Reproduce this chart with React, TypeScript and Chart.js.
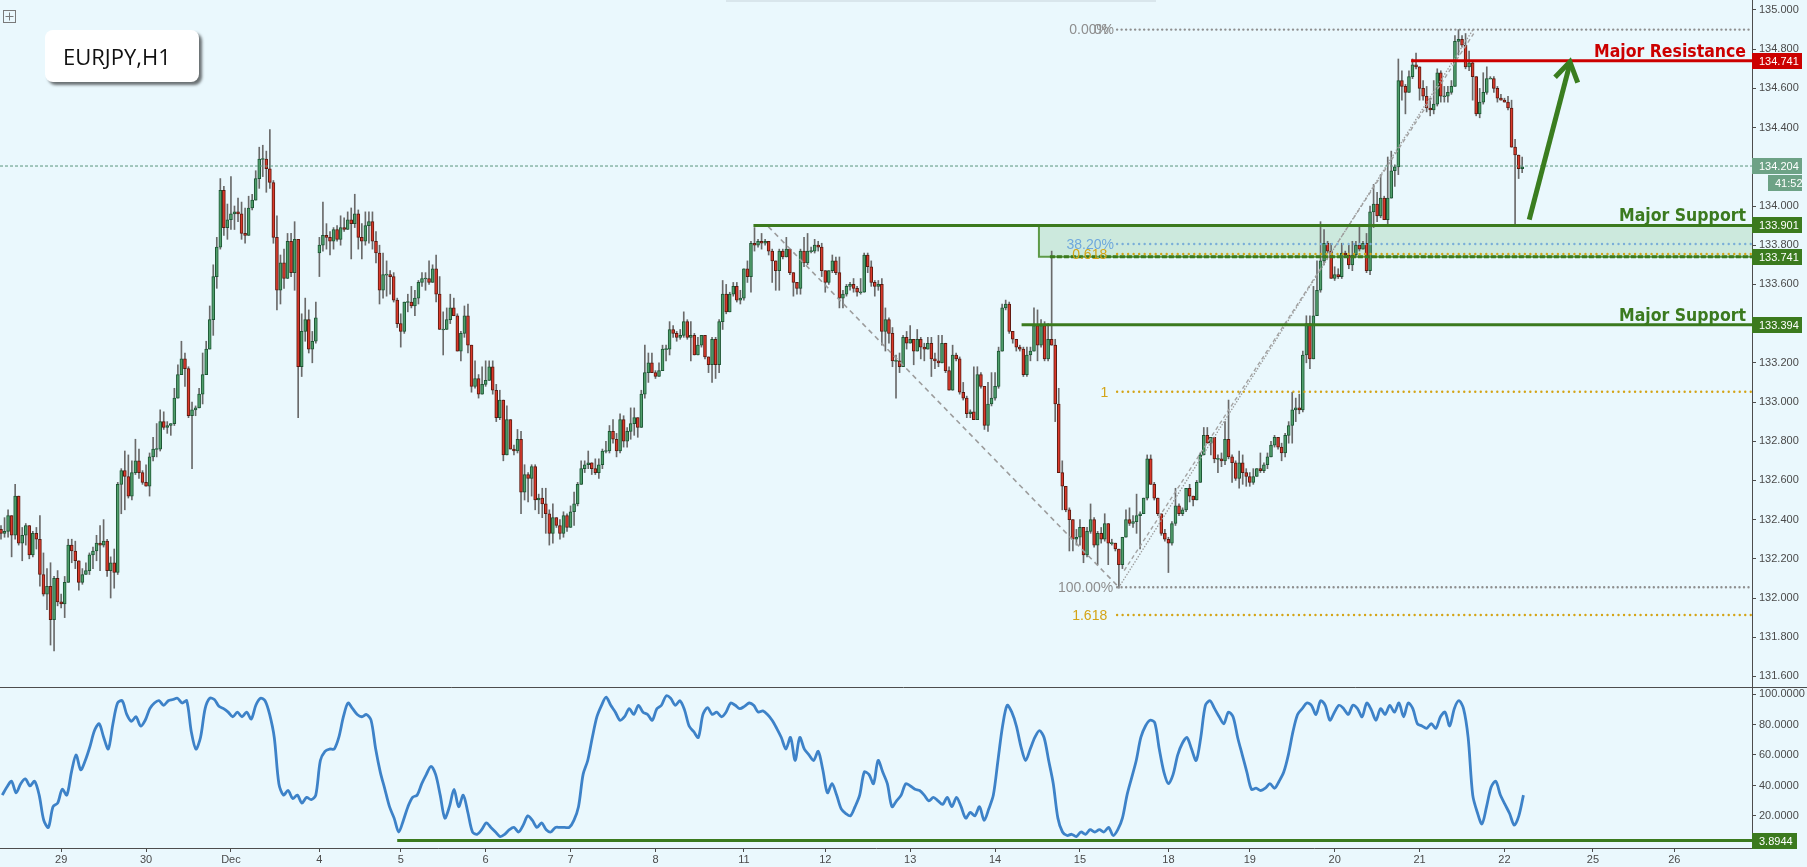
import React, { useEffect, useRef } from 'react';
import { Chart, registerables } from 'chart.js';
Chart.register(...registerables);

const W = 1807;
const H = 867;
const MAIN_H = 687;
const OSC_H = H - MAIN_H;
const AXIS_W = 55;
const BG = '#eaf8fd';
const AXIS_COLOR = '#4d4d4d';
const TICK_TEXT = '#4a4a4a';
const GREEN = '#3b7a1e';
const RED = '#cc0000';
const GOLD = '#d4a417';
const GREY_DOT = '#8f8f8f';
const BLUE_DOT = '#7aaed8';

// ---------------- data: hourly candles, bar index 0..430 ----------------
const FIRST_OPEN = 132.35;
const GAP_OPENS: [number, number][] = [[90, 133.76]];

const CLOSE = [
  132.33,132.34,132.42,132.32,132.52,132.28,132.32,132.37,132.22,132.33,
  132.30,132.12,132.02,132.06,131.89,132.10,131.98,131.97,132.08,132.27,
  132.24,132.19,132.08,132.12,132.14,132.22,132.24,132.28,132.27,132.29,
  132.14,132.18,132.13,132.58,132.65,132.62,132.52,132.64,132.70,132.64,
  132.59,132.57,132.72,132.76,132.76,132.90,132.87,132.88,132.89,133.02,
  133.14,133.22,133.17,132.93,132.96,132.97,133.04,133.14,133.27,133.42,
  133.64,133.79,134.08,133.89,133.93,133.96,133.97,133.96,133.86,133.85,
  133.99,134.03,134.14,134.24,134.24,134.19,134.12,133.84,133.57,133.71,
  133.63,133.82,133.66,133.83,133.18,133.36,133.42,133.27,
  133.31,133.43,133.80,133.85,133.84,133.82,133.88,133.83,133.89,133.88,
  133.93,133.91,133.96,133.84,133.82,133.90,133.92,133.82,133.76,133.57,
  133.65,133.65,133.64,133.52,133.40,133.36,133.51,133.51,133.49,133.53,
  133.61,133.63,133.63,133.61,133.68,133.55,133.37,133.37,133.42,133.48,
  133.44,133.26,133.35,133.44,133.29,133.08,133.12,133.04,133.09,133.11,
  133.18,133.06,132.92,133.01,132.73,132.91,132.76,132.75,132.81,132.54,
  132.63,132.61,132.67,132.50,132.51,132.48,132.43,132.33,132.41,132.37,
  132.33,132.42,132.36,132.44,132.48,132.58,132.66,132.68,132.69,132.66,
  132.64,132.68,132.75,132.75,132.85,132.81,132.75,132.91,
  132.80,132.85,132.89,132.92,132.87,133.04,133.15,133.20,133.15,133.13,
  133.16,133.27,133.27,133.37,133.35,133.33,133.34,133.41,133.33,133.34,
  133.24,133.29,133.34,133.23,133.19,133.32,133.19,133.41,133.55,133.46,
  133.55,133.59,133.52,133.53,133.68,133.64,133.81,133.80,133.82,133.81,
  133.82,133.77,133.72,133.67,133.77,133.74,133.78,133.66,133.61,133.58,
  133.77,133.71,133.77,133.77,133.80,133.79,133.67,133.61,133.67,133.72,
  133.66,133.53,133.55,133.59,133.60,133.58,133.56,133.56,133.75,133.69,
  133.61,133.59,133.60,133.36,133.42,133.35,133.21,133.21,133.18,133.33,
  133.30,133.32,133.26,133.32,133.28,133.27,133.30,
  133.22,133.21,133.20,133.30,133.16,133.06,133.24,133.22,133.05,133.02,
  132.94,132.95,132.91,133.14,133.08,132.88,132.99,133.02,133.08,133.26,
  133.48,133.50,133.36,133.32,133.28,133.27,133.14,133.24,133.26,133.39,
  133.29,133.39,133.22,133.32,133.29,132.99,132.64,132.57,132.45,132.40,
  132.30,132.31,132.36,132.22,132.34,132.40,132.27,132.33,132.30,132.38,
  132.28,132.28,132.25,132.17,132.31,132.40,132.38,132.39,132.42,132.43,
  132.51,132.71,132.58,132.51,132.43,132.33,132.30,132.28,132.38,132.47,
  132.43,132.45,132.56,132.52,132.50,132.59,132.73,132.83,132.79,132.82,
  132.71,132.71,132.70,
  132.81,132.72,132.69,132.61,132.69,132.64,132.62,132.59,132.62,132.66,
  132.65,132.68,132.72,132.78,132.82,132.77,132.74,132.83,132.88,132.96,
  132.97,132.96,133.24,133.40,133.22,133.44,133.57,133.72,133.81,133.77,
  133.63,133.65,133.64,133.76,133.75,133.70,133.75,133.80,133.78,133.81,
  133.67,133.97,134.01,133.95,134.04,133.93,134.04,134.18,134.20,134.64,
  134.61,134.58,134.66,134.72,134.71,134.60,134.56,134.50,134.49,134.52,
  134.68,134.56,134.56,134.58,134.61,134.84,134.85,134.82,134.71,134.73,
  134.66,134.47,134.53,134.58,134.65,134.65,134.60,134.55,134.54,134.53,
  134.50,134.30,134.26,134.19,134.20,
];

const HIGH = [
  132.37,132.41,132.45,132.42,132.58,132.52,132.36,132.38,132.37,132.34,
  132.36,132.42,132.23,132.15,132.18,132.11,132.14,132.02,132.11,132.30,
  132.30,132.29,132.19,132.15,132.18,132.23,132.26,132.32,132.37,132.40,
  132.30,132.21,132.25,132.59,132.66,132.75,132.73,132.70,132.81,132.76,
  132.65,132.68,132.74,132.82,132.89,132.96,132.95,132.90,132.89,133.07,
  133.19,133.31,133.25,133.18,133.00,132.98,133.07,133.25,133.31,133.49,
  133.70,133.84,134.14,134.10,134.01,134.15,134.00,134.04,134.02,133.99,
  134.05,134.06,134.18,134.30,134.31,134.28,134.39,134.13,133.95,133.75,
  133.78,133.86,133.86,133.92,133.83,133.45,133.53,133.47,
  133.36,133.51,133.84,134.02,133.91,133.87,133.89,133.90,133.95,133.94,
  133.97,133.99,134.06,133.98,133.91,133.97,133.97,133.97,133.87,133.80,
  133.76,133.72,133.67,133.66,133.53,133.45,133.51,133.55,133.59,133.57,
  133.62,133.66,133.66,133.72,133.70,133.75,133.64,133.46,133.48,133.55,
  133.53,133.45,133.36,133.49,133.50,133.29,133.21,133.14,133.18,133.21,
  133.21,133.21,133.09,133.06,133.01,132.98,132.91,132.78,132.86,132.85,
  132.68,132.64,132.68,132.68,132.53,132.56,132.56,132.45,132.48,132.41,
  132.40,132.44,132.43,132.47,132.54,132.59,132.70,132.70,132.75,132.69,
  132.71,132.71,132.76,132.80,132.88,132.91,132.84,132.94,
  132.93,132.87,132.97,132.97,132.92,133.06,133.29,133.25,133.25,133.16,
  133.20,133.29,133.29,133.41,133.39,133.36,133.37,133.46,133.42,133.41,
  133.35,133.33,133.34,133.34,133.23,133.33,133.33,133.42,133.62,133.60,
  133.56,133.61,133.61,133.57,133.68,133.72,133.82,133.89,133.83,133.86,
  133.83,133.82,133.78,133.72,133.78,133.78,133.84,133.78,133.66,133.61,
  133.78,133.84,133.86,133.79,133.83,133.82,133.81,133.67,133.67,133.75,
  133.74,133.74,133.57,133.60,133.61,133.63,133.59,133.63,133.76,133.76,
  133.72,133.62,133.62,133.63,133.48,133.43,133.38,133.24,133.25,133.34,
  133.36,133.39,133.32,133.37,133.33,133.30,133.33,
  133.33,133.25,133.34,133.34,133.29,133.18,133.29,133.25,133.23,133.10,
  133.03,132.96,133.18,133.18,133.15,133.08,133.10,133.15,133.15,133.28,
  133.50,133.52,133.51,133.36,133.32,133.29,133.28,133.28,133.28,133.48,
  133.47,133.42,133.41,133.40,133.77,133.32,133.07,132.70,132.57,132.46,
  132.40,132.35,132.40,132.36,132.36,132.48,132.41,132.34,132.36,132.43,
  132.38,132.30,132.28,132.25,132.31,132.45,132.46,132.42,132.53,132.44,
  132.51,132.73,132.73,132.59,132.51,132.43,132.35,132.31,132.39,132.56,
  132.48,132.46,132.56,132.58,132.52,132.60,132.74,132.87,132.87,132.82,
  132.82,132.73,132.74,
  132.90,133.01,132.73,132.70,132.75,132.73,132.66,132.64,132.66,132.66,
  132.74,132.69,132.74,132.80,132.83,132.82,132.79,132.84,132.90,133.05,
  133.02,133.04,133.26,133.44,133.44,133.59,133.72,133.92,133.88,133.82,
  133.81,133.69,133.68,133.81,133.77,133.80,133.82,133.82,133.90,133.82,
  133.86,134.00,134.11,134.07,134.16,134.05,134.25,134.28,134.21,134.75,
  134.69,134.62,134.69,134.75,134.78,134.71,134.64,134.61,134.55,134.64,
  134.70,134.69,134.61,134.61,134.64,134.87,134.90,134.87,134.88,134.79,
  134.74,134.66,134.60,134.68,134.71,134.66,134.66,134.61,134.57,134.55,
  134.56,134.54,134.34,134.26,134.25,
];

const LOW = [
  132.30,132.31,132.31,132.21,132.30,132.27,132.19,132.27,132.20,132.21,
  132.25,132.06,132.01,131.94,131.76,131.73,131.96,131.95,131.90,132.08,
  132.18,132.15,132.04,132.07,132.12,132.12,132.15,132.19,132.14,132.26,
  132.11,132.00,132.05,132.12,132.43,132.45,132.51,132.50,132.63,132.61,
  132.58,132.57,132.52,132.70,132.72,132.75,132.86,132.84,132.83,132.88,
  133.02,133.14,133.08,132.92,132.66,132.93,132.97,132.99,133.14,133.27,
  133.34,133.58,133.78,133.85,133.83,133.88,133.88,133.92,133.83,133.81,
  133.85,133.98,134.03,134.09,134.15,134.07,134.09,133.81,133.47,133.50,
  133.58,133.63,133.64,133.57,132.92,133.13,133.31,133.25,
  133.20,133.30,133.64,133.77,133.78,133.75,133.78,133.82,133.80,133.87,
  133.88,133.73,133.89,133.78,133.73,133.80,133.81,133.78,133.71,133.50,
  133.53,133.54,133.55,133.51,133.38,133.28,133.35,133.46,133.48,133.44,
  133.50,133.59,133.57,133.60,133.61,133.51,133.37,133.24,133.37,133.40,
  133.44,133.26,133.21,133.33,133.25,133.05,133.07,133.02,133.04,133.08,
  133.11,133.04,132.90,132.91,132.70,132.73,132.76,132.73,132.74,132.43,
  132.50,132.49,132.52,132.45,132.43,132.41,132.33,132.27,132.28,132.36,
  132.30,132.31,132.34,132.36,132.37,132.47,132.58,132.64,132.66,132.63,
  132.63,132.61,132.66,132.74,132.74,132.79,132.72,132.74,
  132.77,132.77,132.81,132.83,132.82,132.87,133.02,133.10,133.15,133.12,
  133.13,133.16,133.21,133.24,133.33,133.31,133.32,133.33,133.32,133.21,
  133.24,133.24,133.28,133.22,133.15,133.10,133.12,133.15,133.37,133.45,
  133.46,133.54,133.51,133.50,133.52,133.61,133.56,133.77,133.79,133.78,
  133.80,133.75,133.61,133.57,133.57,133.73,133.74,133.65,133.54,133.55,
  133.55,133.69,133.70,133.76,133.76,133.77,133.64,133.56,133.60,133.66,
  133.65,133.48,133.48,133.54,133.57,133.56,133.54,133.55,133.56,133.66,
  133.59,133.54,133.57,133.29,133.26,133.30,133.18,133.02,133.15,133.18,
  133.27,133.30,133.19,133.26,133.22,133.21,133.27,
  133.13,133.17,133.18,133.20,133.15,133.06,133.06,133.21,133.04,133.01,
  132.92,132.92,132.91,132.91,133.07,132.86,132.85,132.98,133.01,133.07,
  133.26,133.47,133.35,133.30,133.26,133.26,133.13,133.13,133.21,133.26,
  133.21,133.28,133.21,133.21,133.29,132.90,132.64,132.45,132.44,132.24,
  132.24,132.27,132.27,132.18,132.21,132.33,132.26,132.17,132.28,132.29,
  132.17,132.27,132.24,132.05,132.15,132.31,132.37,132.36,132.33,132.25,
  132.43,132.50,132.58,132.50,132.42,132.32,132.29,132.13,132.27,132.37,
  132.42,132.42,132.44,132.49,132.47,132.50,132.59,132.73,132.79,132.73,
  132.69,132.64,132.67,
  132.68,132.71,132.59,132.60,132.56,132.58,132.57,132.57,132.58,132.62,
  132.64,132.64,132.66,132.72,132.77,132.76,132.70,132.72,132.79,132.79,
  132.90,132.94,132.95,133.20,133.17,133.22,133.56,133.56,133.70,133.76,
  133.63,133.62,133.63,133.63,133.74,133.68,133.67,133.74,133.77,133.78,
  133.66,133.65,133.89,133.92,133.94,133.93,133.91,134.04,134.10,134.16,
  134.54,134.47,134.58,134.65,134.70,134.54,134.54,134.48,134.46,134.47,
  134.51,134.53,134.53,134.53,134.57,134.61,134.77,134.81,134.70,134.69,
  134.54,134.46,134.45,134.52,134.57,134.65,134.58,134.53,134.54,134.53,
  134.49,134.30,133.91,134.14,134.17,
];

// oscillator samples (read every ~1.3 bars from bar 0.37)
const OSC_START_BAR = 0.37;
const OSC_STEP_BARS = 1.303;
const OSC = [
  33.7,39.0,42.8,35.2,41.2,44.3,39.7,42.8,33.7,17.1,
  12.5,26.1,28.4,37.5,33.7,48.8,60.1,50.3,56.4,65.4,
  76.0,80.5,71.5,63.9,80.5,94.1,95.6,86.6,82.1,85.1,
  79.0,82.8,90.4,94.1,95.6,92.6,95.6,96.4,97.2,94.1,
  95.6,75.3,63.9,71.5,90.4,97.2,96.4,91.9,90.4,88.1,
  85.1,88.1,85.1,88.1,83.6,92.6,97.2,95.6,86.6,71.5,
  41.2,33.7,36.7,31.4,33.7,28.4,32.2,30.7,33.7,56.4,
  62.4,63.9,63.9,71.5,85.1,94.1,90.4,86.6,85.1,86.6,
  82.8,63.9,48.8,37.5,26.1,18.6,9.5,17.1,26.1,32.2,
  33.7,41.2,47.3,52.6,47.3,33.7,18.6,26.1,37.5,26.1,
  33.7,22.3,9.5,8.0,11.0,15.5,12.5,9.5,6.5,8.0,
  11.0,12.5,9.5,14.0,20.1,17.1,12.5,15.5,11.0,9.5,
  12.5,12.5,12.5,12.5,17.1,26.1,47.3,56.4,71.5,85.1,
  92.6,97.9,92.6,88.1,82.8,85.1,90.4,86.6,92.6,88.1,
  86.6,82.8,90.4,92.6,98.7,97.2,92.6,95.6,89.6,79.0,
  75.3,71.5,86.6,91.1,86.6,88.1,85.1,88.1,94.1,92.6,
  90.4,91.9,94.1,92.6,88.1,88.9,86.6,82.8,77.5,71.5,
  63.9,71.5,56.4,71.5,63.9,60.1,56.4,62.4,50.3,35.2,
  41.2,33.7,24.6,21.6,20.1,26.1,33.7,48.8,47.3,41.2,
  56.4,48.8,41.2,26.1,29.9,33.7,41.2,39.7,37.5,36.7,
  33.7,29.9,32.2,29.9,27.6,32.2,26.1,32.2,26.1,18.6,
  22.3,20.1,26.1,17.1,24.6,33.7,56.4,79.0,92.6,88.1,
  79.0,65.4,56.4,63.9,71.5,76.0,71.5,56.4,41.2,18.6,
  9.5,7.2,8.0,6.5,9.5,8.0,11.0,9.5,11.0,9.5,
  12.5,7.2,11.0,18.6,33.7,45.0,56.4,71.5,79.0,82.8,
  81.3,63.9,48.8,41.2,47.3,60.1,67.7,71.5,63.9,56.4,
  71.5,92.6,95.6,90.4,85.1,80.5,88.1,85.1,71.5,60.1,
  48.8,37.5,38.2,36.7,38.2,41.2,38.2,42.8,48.8,60.1,
  75.3,86.6,90.4,94.1,92.6,86.6,95.6,92.6,82.8,88.1,
  92.6,90.4,86.6,92.6,90.4,85.1,94.1,89.6,82.8,90.4,
  86.6,92.6,88.1,94.1,85.1,94.1,90.4,80.5,79.0,77.5,
  80.5,77.5,85.1,88.1,79.0,90.4,95.6,90.4,71.5,33.7,
  22.3,14.8,26.1,39.0,42.8,33.7,27.6,21.6,14.0,20.1,
  33.7,
];

// axes
const DAY_TICKS = [17, 41, 65, 90, 113, 137, 161, 185, 210, 233, 257, 281, 305, 330, 353, 377, 401, 425, 450, 473];
const DAY_LABELS = ['29', '30', 'Dec', '4', '5', '6', '7', '8', '11', '12', '13', '14', '15', '18', '19', '20', '21', '22', '25', '26'];
const PRICE_TICKS = [131.6, 131.8, 132.0, 132.2, 132.4, 132.6, 132.8, 133.0, 133.2, 133.4, 133.6, 133.8, 134.0, 134.2, 134.4, 134.6, 134.8, 135.0];
const OSC_TICKS = [20, 40, 60, 80, 100];
const X_MIN = -0.283;
const X_MAX = 494.97;
const Y_MIN = 131.546;
const Y_MAX = 135.051;
const OSC_MIN = -1.0;
const OSC_MAX = 104.6;

// levels & drawings
const LAST_PRICE = 134.204;
const COUNTDOWN = '41:52';
const RESISTANCE = 134.741;
const RESISTANCE_FROM = 398.6;
const SUPPORT_1 = 133.901;
const SUPPORT_1_FROM = 212.7;
const ZONE_LOW = 133.741;
const ZONE_FROM = 293.4;
const ZONE_DASH_FROM = 296.5;
const SUPPORT_2 = 133.394;
const SUPPORT_2_FROM = 288.5;
const FIB_FROM = 315.5;
const FIB_LEVELS = [
  { v: 134.90, color: GREY_DOT, gap: 4.5 },
  { v: 133.806, color: BLUE_DOT, gap: 5.5 },
  { v: 133.755, color: GOLD, gap: 5.5 },
  { v: 133.052, color: GOLD, gap: 5.5 },
  { v: 132.055, color: GREY_DOT, gap: 4.5 },
  { v: 131.913, color: GOLD, gap: 5.5 },
];
const FIB_TEXTS = [
  { t: '0.00%', bar: 313.2, v: 134.90, color: '#8e8e8e' },
  { t: '0%', bar: 314.6, v: 134.90, color: '#8e8e8e' },
  { t: '38.20%', bar: 314.6, v: 133.806, color: '#6fa8dc' },
  { t: '0.618', bar: 312.7, v: 133.755, color: GOLD },
  { t: '1', bar: 313.0, v: 133.052, color: GOLD },
  { t: '100.00%', bar: 314.4, v: 132.055, color: '#8e8e8e' },
  { t: '1.618', bar: 312.7, v: 131.913, color: GOLD },
];
const DIAG_DOWN = [{ x: 216.9, y: 133.895 }, { x: 316, y: 132.055 }];
const DIAG_UP_DOT = [{ x: 316, y: 132.055 }, { x: 416.1, y: 134.90 }];
const DIAG_UP_DASH = [{ x: 317.5, y: 132.14 }, { x: 416.3, y: 134.88 }];
const ARROW_TAIL = { x: 432.0, y: 133.93 };
const ARROW_TIP = { x: 443.5, y: 134.736 };
const ARROW_WING_L = { x: 439.3, y: 134.657 };
const ARROW_WING_R = { x: 445.7, y: 134.629 };
const OSC_LEVEL = 3.8944;
const OSC_LEVEL_FROM = 112;

const TICK_FONT = { size: 11, family: '"Liberation Sans", Arial, sans-serif' };

function axisBox(ctx: CanvasRenderingContext2D, x: number, yc: number, w: number, text: string, color: string) {
  ctx.fillStyle = color;
  ctx.fillRect(x, Math.round(yc) - 8, w, 16);
  ctx.fillStyle = '#ffffff';
  ctx.font = '11px "Liberation Sans", Arial, sans-serif';
  ctx.textAlign = 'left';
  ctx.textBaseline = 'middle';
  ctx.fillText(text, x + 7, Math.round(yc) + 0.5);
}

function fitText(ctx: CanvasRenderingContext2D, text: string, xRight: number, yBase: number, color: string, targetW: number) {
  ctx.save();
  ctx.font = 'bold 17px "DejaVu Sans", Verdana, sans-serif';
  const w = ctx.measureText(text).width;
  ctx.translate(xRight, yBase);
  ctx.scale(targetW / w, 1);
  ctx.textAlign = 'right';
  ctx.textBaseline = 'alphabetic';
  ctx.fillStyle = color;
  ctx.fillText(text, 0, 0);
  ctx.restore();
}

function hline(v: number, from: number, color: string, width: number, dash: number[] = [], cap: CanvasLineCap = 'butt') {
  return {
    type: 'line' as const,
    data: [{ x: from, y: v }, { x: X_MAX, y: v }],
    borderColor: color,
    borderWidth: width,
    borderDash: dash,
    borderCapStyle: cap,
    pointRadius: 0,
    fill: false,
    order: 0,
  };
}

function rightAxis(min: number, max: number, ticks: number[], digits: number) {
  return {
    position: 'right' as const,
    min,
    max,
    afterBuildTicks: (s: any) => { s.ticks = ticks.map((v) => ({ value: v })); },
    afterFit: (s: any) => { s.width = AXIS_W; s.paddingTop = 0; s.paddingBottom = 0; },
    grid: { drawOnChartArea: false, drawTicks: true, tickLength: 4, color: AXIS_COLOR },
    border: { display: true, color: AXIS_COLOR, width: 1 },
    ticks: { color: TICK_TEXT, font: TICK_FONT, padding: 3, autoSkip: false, callback: (v: any) => Number(v).toFixed(digits) },
  };
}

export default function App() {
  const mainRef = useRef<HTMLCanvasElement>(null);
  const oscRef = useRef<HTMLCanvasElement>(null);

  useEffect(() => {
    document.body.style.margin = '0';
    const opens = CLOSE.map((c, i) => (i === 0 ? FIRST_OPEN : CLOSE[i - 1]));
    GAP_OPENS.forEach(([i, o]) => { opens[i] = o; });

    const bodyData = CLOSE.map((c, i) => {
      const o = opens[i];
      let a = Math.min(o, c), b = Math.max(o, c);
      if (b - a < 0.004) { const m = (a + b) / 2; a = m - 0.0025; b = m + 0.0025; }
      return { x: i, y: [a, b] };
    });
    const wickData = CLOSE.map((c, i) => ({
      x: i,
      y: [Math.min(LOW[i], opens[i], c), Math.max(HIGH[i], opens[i], c)],
    }));
    const up = CLOSE.map((c, i) => c >= opens[i]);
    const bodyFill = up.map((u) => (u ? '#4f9e6b' : '#d9392b'));
    const bodyBorder = up.map((u) => (u ? '#1d5634' : '#5c1a10'));

    const mainOverlay = {
      id: 'mainOverlay',
      beforeDatasetsDraw(chart: any) {
        const { ctx, chartArea, scales } = chart;
        const x = scales.x, y = scales.y;
        const x0 = x.getPixelForValue(ZONE_FROM);
        const yt = y.getPixelForValue(SUPPORT_1);
        const yb = y.getPixelForValue(ZONE_LOW);
        ctx.save();
        ctx.fillStyle = 'rgba(150, 205, 160, 0.35)';
        ctx.fillRect(x0, yt, chartArea.right - x0, yb - yt);
        ctx.strokeStyle = '#5e9a48';
        ctx.lineWidth = 2;
        ctx.beginPath();
        ctx.moveTo(x0, yt);
        ctx.lineTo(x0, yb);
        ctx.lineTo(chartArea.right, yb);
        ctx.stroke();
        ctx.restore();
      },
      afterDatasetsDraw(chart: any) {
        const { ctx, chartArea, scales } = chart;
        const x = scales.x, y = scales.y;
        ctx.save();
        ctx.font = '14px "Liberation Sans", Arial, sans-serif';
        ctx.textAlign = 'right';
        ctx.textBaseline = 'middle';
        FIB_TEXTS.forEach((f) => {
          ctx.fillStyle = f.color;
          ctx.fillText(f.t, x.getPixelForValue(f.bar), y.getPixelForValue(f.v) + 1);
        });
        const xr = chartArea.right - 6;
        fitText(ctx, 'Major Resistance', xr, y.getPixelForValue(RESISTANCE) - 4, RED, 152);
        fitText(ctx, 'Major Support', xr, y.getPixelForValue(SUPPORT_1) - 4, GREEN, 127);
        fitText(ctx, 'Major Support', xr, y.getPixelForValue(SUPPORT_2) - 4, GREEN, 127);
        const px = (p: { x: number; y: number }) => [x.getPixelForValue(p.x), y.getPixelForValue(p.y)];
        const [tx, ty] = px(ARROW_TAIL);
        const [hx, hy] = px(ARROW_TIP);
        const [lx, ly] = px(ARROW_WING_L);
        const [rx, ry] = px(ARROW_WING_R);
        ctx.strokeStyle = '#3a7d1f';
        ctx.lineWidth = 5;
        ctx.lineCap = 'butt';
        ctx.lineJoin = 'miter';
        ctx.beginPath();
        ctx.moveTo(tx, ty);
        ctx.lineTo(hx, hy + 2);
        ctx.stroke();
        ctx.beginPath();
        ctx.moveTo(lx, ly);
        ctx.lineTo(hx, hy);
        ctx.lineTo(rx, ry);
        ctx.stroke();
        ctx.restore();
      },
      afterDraw(chart: any) {
        const { ctx, chartArea, scales } = chart;
        const y = scales.y;
        const ax = chartArea.right;
        ctx.save();
        axisBox(ctx, ax, y.getPixelForValue(RESISTANCE), 50, RESISTANCE.toFixed(3), RED);
        axisBox(ctx, ax, y.getPixelForValue(LAST_PRICE), 50, LAST_PRICE.toFixed(3), '#6da286');
        axisBox(ctx, ax + 16, y.getPixelForValue(LAST_PRICE) + 17, 34, COUNTDOWN, '#6da286');
        axisBox(ctx, ax, y.getPixelForValue(SUPPORT_1), 50, SUPPORT_1.toFixed(3), GREEN);
        axisBox(ctx, ax, y.getPixelForValue(ZONE_LOW), 50, ZONE_LOW.toFixed(3), GREEN);
        axisBox(ctx, ax, y.getPixelForValue(SUPPORT_2), 50, SUPPORT_2.toFixed(3), GREEN);
        ctx.restore();
      },
    };

    const dotted = (gap: number) => [0.01, gap];

    const mainChart = new Chart(mainRef.current as HTMLCanvasElement, {
      type: 'bar',
      data: {
        datasets: [
          hline(LAST_PRICE, X_MIN, '#5a967c', 1, [3, 2]),
          hline(RESISTANCE, RESISTANCE_FROM, RED, 3),
          hline(SUPPORT_1, SUPPORT_1_FROM, GREEN, 3),
          hline(SUPPORT_2, SUPPORT_2_FROM, GREEN, 3),
          ...FIB_LEVELS.map((f) => hline(f.v, FIB_FROM, f.color, 2.4, dotted(f.gap), 'round')),
          hline(ZONE_LOW, ZONE_DASH_FROM, GREEN, 3, [5, 2]),
          { type: 'line', data: DIAG_DOWN, borderColor: '#9c9c9c', borderWidth: 1.6, borderDash: [5, 4], pointRadius: 0, fill: false, order: 0 },
          { type: 'line', data: DIAG_UP_DOT, borderColor: '#9c9c9c', borderWidth: 1.6, borderDash: [0.01, 3], borderCapStyle: 'round', pointRadius: 0, fill: false, order: 0 },
          { type: 'line', data: DIAG_UP_DASH, borderColor: '#a3a3a3', borderWidth: 1.4, borderDash: [4, 3], pointRadius: 0, fill: false, order: 0 },
          {
            type: 'bar', data: bodyData, backgroundColor: bodyFill, borderColor: bodyBorder,
            borderWidth: 1, borderSkipped: false, barThickness: 3, grouped: false, order: 1,
          },
          {
            type: 'bar', data: wickData, backgroundColor: '#6a6a6a', borderWidth: 0,
            barThickness: 1, grouped: false, order: 2,
          },
        ] as any,
      },
      options: {
        animation: false,
        responsive: false,
        devicePixelRatio: 1,
        events: [],
        layout: { padding: 0 },
        plugins: { legend: { display: false }, tooltip: { enabled: false } },
        scales: {
          x: { type: 'linear', min: X_MIN, max: X_MAX, display: false, offset: false, grid: { offset: false } },
          y: rightAxis(Y_MIN, Y_MAX, PRICE_TICKS, 3) as any,
        },
      } as any,
      plugins: [mainOverlay],
    });

    const oscOverlay = {
      id: 'oscOverlay',
      afterDraw(chart: any) {
        const { ctx, chartArea, scales } = chart;
        ctx.save();
        ctx.strokeStyle = AXIS_COLOR;
        ctx.lineWidth = 1;
        ctx.beginPath();
        ctx.moveTo(0, chartArea.top + 0.5);
        ctx.lineTo(W, chartArea.top + 0.5);
        ctx.stroke();
        axisBox(ctx, chartArea.right, scales.y.getPixelForValue(OSC_LEVEL), 45, OSC_LEVEL.toFixed(4), GREEN);
        ctx.restore();
      },
    };

    const oscChart = new Chart(oscRef.current as HTMLCanvasElement, {
      type: 'line',
      data: {
        datasets: [
          {
            data: OSC.map((v, k) => ({ x: OSC_START_BAR + k * OSC_STEP_BARS, y: v })),
            borderColor: '#3d82c8', borderWidth: 2.8, pointRadius: 0, tension: 0.3, fill: false, order: 0,
          },
          { ...hline(OSC_LEVEL, OSC_LEVEL_FROM, GREEN, 3), order: 1 },
        ] as any,
      },
      options: {
        animation: false,
        responsive: false,
        devicePixelRatio: 1,
        events: [],
        layout: { padding: 0 },
        plugins: { legend: { display: false }, tooltip: { enabled: false } },
        scales: {
          x: {
            type: 'linear', min: X_MIN, max: X_MAX, position: 'bottom', offset: false,
            afterBuildTicks: (s: any) => { s.ticks = DAY_TICKS.map((v) => ({ value: v })); },
            afterFit: (s: any) => { s.height = 19; s.paddingLeft = 0; s.paddingRight = 0; },
            grid: { drawOnChartArea: false, drawTicks: true, tickLength: 4, color: AXIS_COLOR },
            border: { display: true, color: AXIS_COLOR, width: 1 },
            ticks: {
              autoSkip: false, maxRotation: 0, minRotation: 0, padding: 1, color: TICK_TEXT, font: TICK_FONT,
              callback: (_v: any, i: number) => DAY_LABELS[i],
            },
          },
          y: rightAxis(OSC_MIN, OSC_MAX, OSC_TICKS, 4) as any,
        },
      } as any,
      plugins: [oscOverlay],
    });

    return () => {
      mainChart.destroy();
      oscChart.destroy();
    };
  }, []);

  return (
    <div style={{ position: 'absolute', left: 0, top: 0, width: W, height: H, background: BG, overflow: 'hidden' }}>
      <div style={{ position: 'absolute', left: 726, top: 0, width: 430, height: 2, background: '#d9e6ec' }} />
      <canvas ref={mainRef} width={W} height={MAIN_H} style={{ position: 'absolute', left: 0, top: 0, display: 'block' }} />
      <canvas ref={oscRef} width={W} height={OSC_H} style={{ position: 'absolute', left: 0, top: MAIN_H, display: 'block' }} />
      <svg width={13} height={13} style={{ position: 'absolute', left: 3, top: 10 }}>
        <rect x={0.5} y={0.5} width={12} height={12} fill="none" stroke="#7a7a7a" strokeWidth={1} />
        <line x1={6.5} y1={2.5} x2={6.5} y2={10.5} stroke="#7a7a7a" />
        <line x1={2.5} y1={6.5} x2={10.5} y2={6.5} stroke="#7a7a7a" />
      </svg>
      <div
        style={{
          position: 'absolute', left: 45, top: 30, width: 154, height: 52, background: '#ffffff',
          borderRadius: 8, boxShadow: '3px 3px 3px rgba(0,0,0,0.55)', boxSizing: 'border-box',
          paddingLeft: 18, fontFamily: '"Open Sans", "Noto Sans", sans-serif', fontSize: 22,
          lineHeight: '52px', color: '#111111', whiteSpace: 'nowrap',
        }}
      >
        EURJPY,H1
      </div>
    </div>
  );
}
